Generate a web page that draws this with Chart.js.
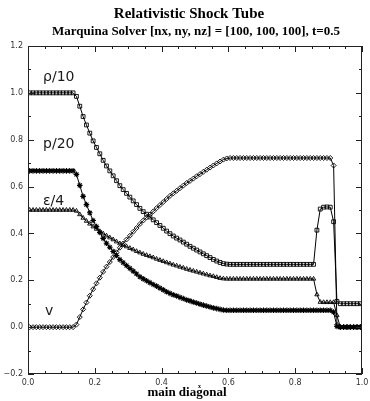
<!DOCTYPE html>
<html>
<head>
<meta charset="utf-8">
<title>Relativistic Shock Tube</title>
<script src="https://cdn.jsdelivr.net/npm/chart.js@4.4.0/dist/chart.umd.min.js"></script>
<style>
  html, body { margin: 0; padding: 0; background: #fff; }
  canvas { display: block; }
</style>
</head>
<body>
<canvas id="shockChart" width="370" height="401"></canvas>
<script>
// cell centres along the main diagonal
const diagX = [
  0.005, 0.015, 0.025, 0.035, 0.045, 0.055, 0.065, 0.075, 0.085, 0.095,
  0.105, 0.115, 0.125, 0.135, 0.145, 0.155, 0.165, 0.175, 0.185, 0.195,
  0.205, 0.215, 0.225, 0.235, 0.245, 0.255, 0.265, 0.275, 0.285, 0.295,
  0.305, 0.315, 0.325, 0.335, 0.345, 0.355, 0.365, 0.375, 0.385, 0.395,
  0.405, 0.415, 0.425, 0.435, 0.445, 0.455, 0.465, 0.475, 0.485, 0.495,
  0.505, 0.515, 0.525, 0.535, 0.545, 0.555, 0.565, 0.575, 0.585, 0.595,
  0.605, 0.615, 0.625, 0.635, 0.645, 0.655, 0.665, 0.675, 0.685, 0.695,
  0.705, 0.715, 0.725, 0.735, 0.745, 0.755, 0.765, 0.775, 0.785, 0.795,
  0.805, 0.815, 0.825, 0.835, 0.845, 0.855, 0.865, 0.875, 0.885, 0.895,
  0.905, 0.915, 0.925, 0.935, 0.945, 0.955, 0.965, 0.975, 0.985, 0.995
];

const rhoOver10 = [
  1.000, 1.000, 1.000, 1.000, 1.000, 1.000, 1.000, 1.000, 1.000, 1.000,
  1.000, 1.000, 1.000, 1.000, 0.985, 0.943, 0.899, 0.863, 0.828, 0.795,
  0.767, 0.740, 0.712, 0.688, 0.667, 0.646, 0.625, 0.604, 0.587, 0.571,
  0.555, 0.539, 0.523, 0.507, 0.493, 0.482, 0.470, 0.458, 0.446, 0.434,
  0.422, 0.410, 0.399, 0.389, 0.380, 0.372, 0.363, 0.354, 0.345, 0.337,
  0.329, 0.321, 0.313, 0.305, 0.297, 0.289, 0.282, 0.276, 0.271, 0.269,
  0.268, 0.268, 0.268, 0.268, 0.268, 0.268, 0.268, 0.268, 0.268, 0.268,
  0.268, 0.268, 0.268, 0.268, 0.268, 0.268, 0.268, 0.268, 0.268, 0.268,
  0.268, 0.268, 0.268, 0.268, 0.268, 0.268, 0.414, 0.504, 0.512, 0.513,
  0.512, 0.450, 0.110, 0.100, 0.100, 0.100, 0.100, 0.100, 0.100, 0.100
];

const pOver20 = [
  0.667, 0.667, 0.667, 0.667, 0.667, 0.667, 0.667, 0.667, 0.667, 0.667,
  0.667, 0.667, 0.667, 0.667, 0.652, 0.605, 0.558, 0.523, 0.488, 0.455,
  0.429, 0.404, 0.379, 0.358, 0.341, 0.323, 0.306, 0.288, 0.275, 0.263,
  0.251, 0.239, 0.227, 0.215, 0.206, 0.198, 0.190, 0.182, 0.175, 0.167,
  0.159, 0.151, 0.144, 0.138, 0.133, 0.127, 0.122, 0.116, 0.112, 0.107,
  0.103, 0.098, 0.094, 0.090, 0.086, 0.082, 0.079, 0.076, 0.073, 0.072,
  0.072, 0.072, 0.072, 0.072, 0.072, 0.072, 0.072, 0.072, 0.072, 0.072,
  0.072, 0.072, 0.072, 0.072, 0.072, 0.072, 0.072, 0.072, 0.072, 0.072,
  0.072, 0.072, 0.072, 0.072, 0.072, 0.072, 0.072, 0.072, 0.072, 0.072,
  0.072, 0.064, 0.003, 0.000, 0.000, 0.000, 0.000, 0.000, 0.000, 0.000
];

const epsOver4 = [
  0.500, 0.500, 0.500, 0.500, 0.500, 0.500, 0.500, 0.500, 0.500, 0.500,
  0.500, 0.500, 0.500, 0.500, 0.496, 0.481, 0.466, 0.453, 0.441, 0.429,
  0.419, 0.409, 0.399, 0.390, 0.382, 0.374, 0.365, 0.357, 0.350, 0.344,
  0.337, 0.331, 0.324, 0.318, 0.312, 0.307, 0.302, 0.297, 0.291, 0.286,
  0.281, 0.276, 0.271, 0.266, 0.262, 0.257, 0.253, 0.248, 0.244, 0.240,
  0.236, 0.232, 0.228, 0.224, 0.220, 0.217, 0.213, 0.209, 0.207, 0.206,
  0.206, 0.206, 0.206, 0.206, 0.206, 0.206, 0.206, 0.206, 0.206, 0.206,
  0.206, 0.206, 0.206, 0.206, 0.206, 0.206, 0.206, 0.206, 0.206, 0.206,
  0.206, 0.206, 0.206, 0.206, 0.206, 0.206, 0.139, 0.107, 0.106, 0.106,
  0.106, 0.106, 0.050, 0.000, 0.000, 0.000, 0.000, 0.000, 0.000, 0.000
];

const velocity = [
  0.000, 0.000, 0.000, 0.000, 0.000, 0.000, 0.000, 0.000, 0.000, 0.000,
  0.000, 0.000, 0.000, 0.000, 0.011, 0.043, 0.076, 0.105, 0.134, 0.162,
  0.187, 0.211, 0.236, 0.258, 0.278, 0.299, 0.319, 0.339, 0.357, 0.374,
  0.390, 0.407, 0.423, 0.440, 0.455, 0.468, 0.481, 0.494, 0.508, 0.521,
  0.534, 0.547, 0.560, 0.571, 0.582, 0.593, 0.604, 0.615, 0.624, 0.634,
  0.644, 0.653, 0.663, 0.672, 0.681, 0.690, 0.699, 0.707, 0.715, 0.720,
  0.722, 0.722, 0.722, 0.722, 0.722, 0.722, 0.722, 0.722, 0.722, 0.722,
  0.722, 0.722, 0.722, 0.722, 0.722, 0.722, 0.722, 0.722, 0.722, 0.722,
  0.722, 0.722, 0.722, 0.722, 0.722, 0.722, 0.722, 0.722, 0.722, 0.722,
  0.722, 0.690, 0.010, 0.000, 0.000, 0.000, 0.000, 0.000, 0.000, 0.000
];

const xTickLabels = ["0.0", "0.2", "0.4", "0.6", "0.8", "1.0"];
const yTickLabels = ["-0.2", "0.0", "0.2", "0.4", "0.6", "0.8", "1.0", "1.2"];
const curveNames = ["ρ/10", "p/20", "ε/4", "v"];

function toPoints(values) {
  return values.map((v, i) => ({ x: diagX[i], y: v }));
}

function series(label, values, style, size, lineW) {
  return {
    label,
    data: toPoints(values),
    borderColor: "#000",
    borderWidth: 1,
    pointStyle: style,
    pointRadius: size,
    pointBorderWidth: lineW,
    pointBorderColor: "#000",
    pointBackgroundColor: "rgba(255,255,255,0)",
    tension: 0,
  };
}

// IDL-style frame: closed box, inward ticks on all four sides, text
const idlFrame = {
  id: "idlFrame",
  afterDraw(chart) {
    const { ctx, chartArea: a, scales: { x, y } } = chart;
    ctx.save();

    ctx.strokeStyle = "#222";
    ctx.lineWidth = 1;
    ctx.strokeRect(a.left + 0.5, a.top + 0.5, a.right - a.left - 1, a.bottom - a.top - 1);

    ctx.beginPath();
    for (let k = 0; k <= 20; k++) {
      const v = k * 0.05;
      const px = Math.round(x.getPixelForValue(v)) + 0.5;
      const len = k % 4 === 0 ? 6 : 3;
      ctx.moveTo(px, a.bottom); ctx.lineTo(px, a.bottom - len);
      ctx.moveTo(px, a.top); ctx.lineTo(px, a.top + len);
    }
    for (let k = 0; k <= 14; k++) {
      const v = -0.2 + k * 0.1;
      const py = Math.round(y.getPixelForValue(v)) + 0.5;
      const len = k % 2 === 0 ? 6 : 3;
      ctx.moveTo(a.left, py); ctx.lineTo(a.left + len, py);
      ctx.moveTo(a.right, py); ctx.lineTo(a.right - len, py);
    }
    ctx.stroke();

    // tick labels
    ctx.fillStyle = "#333";
    ctx.font = "8px 'DejaVu Sans'";
    ctx.textAlign = "center";
    ctx.textBaseline = "middle";
    xTickLabels.forEach(t => {
      ctx.fillText(t, x.getPixelForValue(parseFloat(t)), a.bottom + 9);
    });
    ctx.textAlign = "right";
    yTickLabels.forEach(t => {
      ctx.fillText(t.replace("-", "\u2212"), a.left - 5, y.getPixelForValue(parseFloat(t)));
    });

    // titles
    ctx.fillStyle = "#000";
    ctx.textBaseline = "alphabetic";
    ctx.textAlign = "center";
    ctx.font = "bold 15px 'Liberation Serif'";
    ctx.fillText("Relativistic Shock Tube", 189, 18);
    ctx.font = "bold 13px 'Liberation Serif'";
    ctx.fillText("Marquina Solver [nx, ny, nz] = [100, 100, 100], t=0.5", 196, 35);

    const axisTitle = "main diagonal";
    ctx.font = "bold 13px 'Liberation Serif'";
    const cx = 187, base = 396;
    ctx.fillText(axisTitle, cx, base);
    const full = ctx.measureText(axisTitle).width;
    const pre = ctx.measureText("main dia").width;
    const gw = ctx.measureText("g").width;
    const gx = cx - full / 2 + pre + gw / 2;
    ctx.font = "bold 6px 'Liberation Serif'";
    ctx.fillText("x", gx, base - 8);

    // curve names
    ctx.font = "14px 'DejaVu Sans'";
    ctx.fillStyle = "#1a1a1a";
    ctx.textAlign = "left";
    const spots = [[0.045, 1.05], [0.045, 0.765], [0.045, 0.522], [0.051, 0.05]];
    curveNames.forEach((name, i) => {
      ctx.fillText(name, x.getPixelForValue(spots[i][0]), y.getPixelForValue(spots[i][1]));
    });

    ctx.restore();
  }
};

new Chart(document.getElementById("shockChart"), {
  type: "line",
  data: {
    datasets: [
      series("rho/10", rhoOver10, "rect", 2.7, 0.9),
      series("p/20", pOver20, "star", 2.8, 1.1),
      series("eps/4", epsOver4, "triangle", 2.5, 0.9),
      series("v", velocity, "rectRot", 2.5, 0.9),
    ],
  },
  options: {
    responsive: false,
    animation: false,
    devicePixelRatio: 1,
    layout: { padding: { left: 28, right: 8, top: 46, bottom: 27 } },
    plugins: {
      legend: { display: false },
      tooltip: { enabled: false },
    },
    scales: {
      x: {
        type: "linear",
        min: 0,
        max: 1,
        grid: { display: false },
        border: { display: false },
        ticks: { display: false },
        afterFit: s => { s.height = 0; },
      },
      y: {
        type: "linear",
        min: -0.2,
        max: 1.2,
        grid: { display: false },
        border: { display: false },
        ticks: { display: false },
        afterFit: s => { s.width = 0; },
      },
    },
  },
  plugins: [idlFrame],
});
</script>
</body>
</html>
